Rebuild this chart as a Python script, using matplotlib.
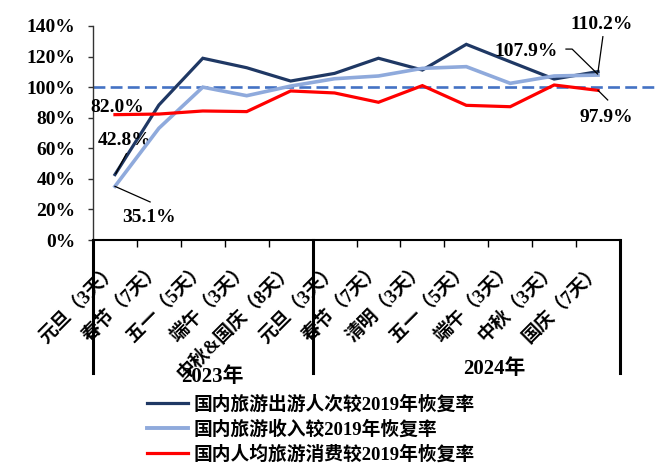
import numpy as np
import matplotlib
matplotlib.use("Agg")
import matplotlib.pyplot as plt
from matplotlib.lines import Line2D

plt.rcParams['font.family'] = ['Liberation Serif', 'Noto Sans CJK SC', 'DejaVu Sans']
plt.rcParams['font.weight'] = 'bold'

# Holiday periods (2023: first five, 2024: remaining seven)
categories = ["元旦（3天）", "春节（7天）", "五一（5天）", "端午（3天）", "中秋&国庆（8天）",
              "元旦（3天）", "春节（7天）", "清明（3天）", "五一（5天）", "端午（3天）",
              "中秋（3天）", "国庆（7天）"]
years = ["2023年", "2024年"]
year_sizes = [5, 7]

# Recovery rates vs 2019 (%)
trips = [42.8, 88.3, 118.9, 112.7, 104.0, 109.0, 118.9, 111.2, 128.0, 116.6, 105.3, 110.2]
revenue = [35.1, 73.1, 100.0, 94.4, 100.7, 105.5, 107.3, 112.3, 113.4, 102.5, 107.3, 107.9]
per_capita = [82.0, 82.4, 84.4, 84.0, 97.5, 96.2, 90.1, 101.0, 88.1, 87.2, 101.4, 97.9]

series_names = ["国内旅游出游人次较2019年恢复率",
                "国内旅游收入较2019年恢复率",
                "国内人均旅游消费较2019年恢复率"]
colors = ["#1F3864", "#8FAADC", "#FF0000"]
baseline = 100

W, H = 660, 465
fig = plt.figure(figsize=(W / 100, H / 100), dpi=100)
ax = fig.add_axes([93 / W, 1 - 240 / H, 527 / W, 214 / H])

x = np.arange(len(categories))
ax.set_xlim(-0.5, len(categories) - 0.5)
ax.set_ylim(0, 140)

# reference line at 100%, running past the plot to the right edge
ax.axhline(baseline, xmin=0, xmax=(658 - 93) / 527, color="#4472C4", lw=1.9,
           dashes=(4.5, 2.0), clip_on=False, zorder=1)

l1, = ax.plot(x, trips, color=colors[0], lw=2.3, zorder=3, solid_joinstyle='miter')
l2, = ax.plot(x, revenue, color=colors[1], lw=2.6, zorder=4, solid_joinstyle='miter')
l3, = ax.plot(x, per_capita, color=colors[2], lw=2.3, zorder=5, solid_joinstyle='miter')

# spines
for s in ["top", "right"]:
    ax.spines[s].set_visible(False)
ax.spines["left"].set_linewidth(1.0)
ax.spines["left"].set_color("#333333")
ax.spines["bottom"].set_linewidth(1.5)
ax.spines["bottom"].set_color("black")

# y axis
yt = np.arange(0, 141, 20)
ax.set_yticks(yt)
ax.set_yticklabels([f"{v}%" for v in yt], fontsize=14, fontweight='bold')
ax.tick_params(axis='y', direction='out', length=3.6, width=1.0, pad=9, color="#333333")

# x axis: labels at centres, tick marks at boundaries
ax.set_xticks(x)
ax.set_xticklabels(categories, fontsize=13.5, rotation=45, ha='right', va='center',
                   rotation_mode='anchor')
ax.tick_params(axis='x', which='major', length=0, pad=19)
bounds = np.cumsum(year_sizes)[:-1] - 0.5
minor = [b for b in np.arange(0.5, len(categories) - 1, 1.0) if b not in bounds]
ax.set_xticks(minor, minor=True)
ax.tick_params(axis='x', which='minor', direction='out', length=5, width=1.0)

# group separators and year labels
sep_x = [-0.5] + list(bounds) + [len(categories) - 0.5]
for sx in sep_x:
    ax.plot([sx, sx], [0, -87], color="black", lw=2.2, clip_on=False, zorder=6)
ax.text(2.21, -89.6, years[0], ha='center', va='center', fontsize=15,
        fontweight='bold', clip_on=False)
ax.text(8.63, -84.4, years[1], ha='center', va='center', fontsize=15,
        fontweight='bold', clip_on=False)

# value labels
lab_kw = dict(fontsize=14, fontweight='bold', ha='center', va='center')
line_kw = dict(color="black", lw=0.9, zorder=7, clip_on=False)
ax.text(0.05, 87.0, f"{per_capita[0]:.1f}%", **lab_kw)
ax.plot([0.02, 0.26], [43.5, 56.5], **line_kw)
ax.text(0.23, 65.4, f"{trips[0]:.1f}%", **lab_kw)
ax.plot([0, 0.80], [revenue[0], 24.9], **line_kw)
ax.text(0.78, 14.4, f"{revenue[0]:.1f}%", **lab_kw)
last = len(categories) - 1
ax.plot([last, last + 0.11], [trips[-1], 133.0], **line_kw)
ax.text(last + 0.09, 141.3, f"{trips[-1]:.1f}%", clip_on=False, **lab_kw)
ax.plot([10.27, 10.41, last - 0.01], [124.9, 124.9, revenue[-1] + 0.7], **line_kw)
ax.text(9.36, 123.0, f"{revenue[-1]:.1f}%", **lab_kw)
ax.plot([last, last + 0.22], [per_capita[-1], 91.6], **line_kw)
ax.text(last + 0.18, 80.4, f"{per_capita[-1]:.1f}%", **lab_kw)

# legend below the plot
handles = [Line2D([], [], color=colors[0], lw=2.3),
           Line2D([], [], color=colors[1], lw=2.8),
           Line2D([], [], color=colors[2], lw=2.3)]
fig.legend(handles, series_names, loc='upper left',
           bbox_to_anchor=(147 / W, 1 - 395 / H), frameon=False,
           prop=dict(size=13.5, weight='bold'), handlelength=2.2,
           handletextpad=0.3, labelspacing=0.34, borderpad=0, borderaxespad=0)

fig.savefig("out.png", dpi=100)
